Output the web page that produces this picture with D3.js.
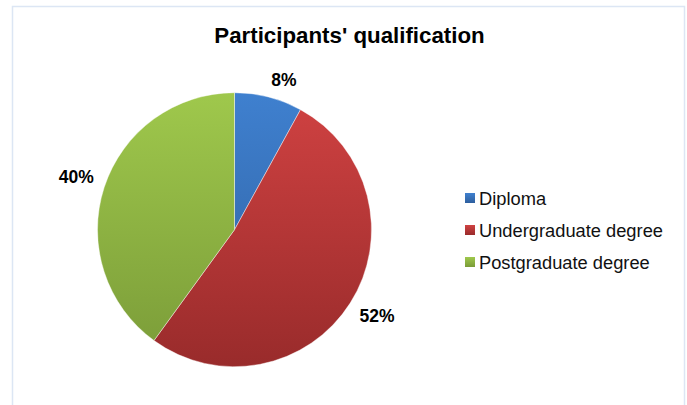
<!DOCTYPE html>
<html lang="en">
  <head>
    <meta charset="UTF-8" />
    <title>Participants' qualification</title>
    <style>
      body {
        margin: 0;
        background: #fff;
      }
      text {
        font-family: "Liberation Sans", Arial, sans-serif;
      }
      .frame {
        fill: none;
        stroke: #dce6f4;
        stroke-width: 1.5px;
      }
      .slice {
        stroke: #ffffff;
        stroke-opacity: 0.6;
        stroke-width: 0.7px;
      }
    </style>
  </head>
  <body>
    <div id="chart"></div>
    <script src="https://cdn.jsdelivr.net/npm/d3@7"></script>
    <script>
      /* global d3 */

      const categories = ["Diploma", "Undergraduate degree", "Postgraduate degree"];
      const values = [8, 52, 40];
      const topColors = ["#3f80cf", "#d04242", "#9fc84c"];
      const bottomColors = ["#2e5f9e", "#992b2b", "#7a9b38"];

      let width = 687,
        height = 405;

      let cx = 234.5,
        cy = 229.7,
        radius = 137;

      let svg = d3
        .select("#chart")
        .append("svg")
        .attr("width", width)
        .attr("height", height);

      // chart frame (bottom runs off the picture)
      svg
        .append("rect")
        .attr("class", "frame")
        .attr("x", 12.5)
        .attr("y", 6.5)
        .attr("width", 672)
        .attr("height", 420);

      svg
        .append("text")
        .attr("x", 349.5)
        .attr("y", 43)
        .attr("text-anchor", "middle")
        .style("font-size", "22.3px")
        .style("font-weight", "bold")
        .text("Participants' qualification");

      let defs = svg.append("defs");
      categories.forEach(function (c, i) {
        // gradient runs over the pie's full height, in the pie group's space
        let g = defs
          .append("linearGradient")
          .attr("id", "grad" + i)
          .attr("gradientUnits", "userSpaceOnUse")
          .attr("x1", 0)
          .attr("x2", 0)
          .attr("y1", -radius)
          .attr("y2", radius);
        g.append("stop").attr("offset", "0%").attr("stop-color", topColors[i]);
        g.append("stop").attr("offset", "100%").attr("stop-color", bottomColors[i]);

        let lg = defs
          .append("linearGradient")
          .attr("id", "lg" + i)
          .attr("x1", 0)
          .attr("x2", 0)
          .attr("y1", 0)
          .attr("y2", 1);
        lg.append("stop").attr("offset", "0%").attr("stop-color", topColors[i]);
        lg.append("stop").attr("offset", "100%").attr("stop-color", bottomColors[i]);
      });

      let pie = d3
        .pie()
        .sort(null)
        .value(function (d) {
          return d;
        });

      let arcs = pie(values);
      let arc = d3.arc().innerRadius(0).outerRadius(radius);

      let g = svg.append("g").attr("transform", "translate(" + cx + "," + cy + ")");

      g.selectAll(".slice")
        .data(arcs)
        .enter()
        .append("path")
        .attr("class", "slice")
        .attr("d", arc)
        .attr("fill", function (d, i) {
          return "url(#grad" + i + ")";
        });

      // outside labels, box pushed away from the edge point
      let labelR = 148;
      g.selectAll(".lbl")
        .data(arcs)
        .enter()
        .append("text")
        .attr("class", "lbl")
        .attr("text-anchor", "middle")
        .style("font-size", "17.5px")
        .style("font-weight", "bold")
        .text(function (d) {
          return d.data + "%";
        })
        .each(function (d) {
          let a = (d.startAngle + d.endAngle) / 2;
          let s = Math.sin(a),
            c = Math.cos(a);
          let px = labelR * s,
            py = -labelR * c;
          let w = this.getComputedTextLength();
          let x = px + (w / 2) * Math.sign(s);
          let y = py - 7 * Math.sign(c);
          d3.select(this).attr("x", x).attr("y", y + 6.3);
        });

      let legend = svg
        .selectAll(".legend")
        .data(categories)
        .enter()
        .append("g")
        .attr("class", "legend")
        .attr("transform", function (d, i) {
          return "translate(465," + (198 + i * 32) + ")";
        });

      legend
        .append("rect")
        .attr("x", 0)
        .attr("y", -5)
        .attr("width", 10)
        .attr("height", 10)
        .attr("fill", function (d, i) {
          return "url(#lg" + i + ")";
        });

      legend
        .append("text")
        .attr("x", 14)
        .attr("y", 6.5)
        .style("font-size", "18.3px")
        .style("fill", "#111")
        .text(function (d) {
          return d;
        });
    </script>
  </body>
</html>
